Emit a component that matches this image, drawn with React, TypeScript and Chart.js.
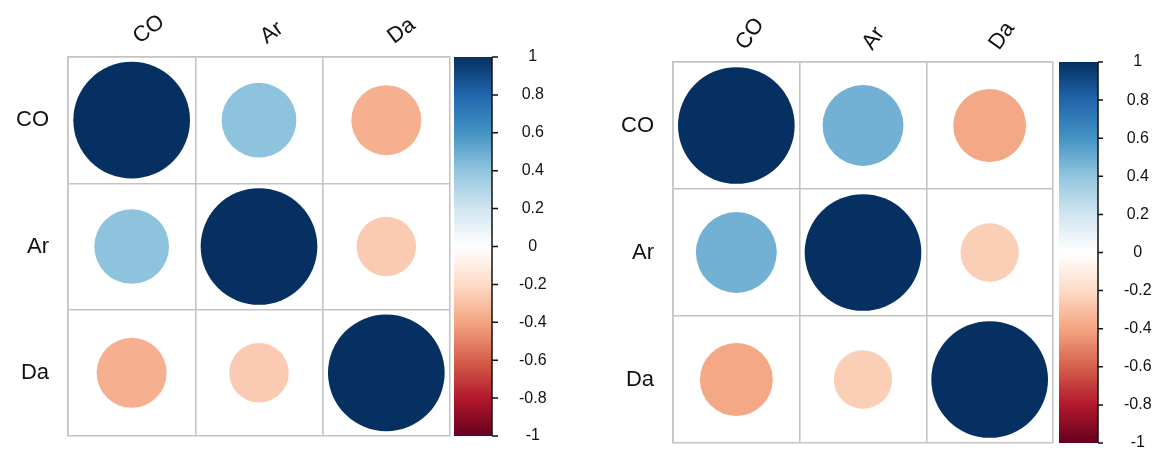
import React, { useEffect, useRef } from 'react';
import { Chart, registerables } from 'chart.js';

Chart.register(...registerables);

// ---- data ----
const variables = ['CO', 'Ar', 'Da'];

const leftCO = [1, 0.41, -0.36];
const leftAr = [0.41, 1, -0.26];
const leftDa = [-0.36, -0.26, 1];

const rightCO = [1, 0.48, -0.39];
const rightAr = [0.48, 1, -0.25];
const rightDa = [-0.39, -0.25, 1];

const colorbarTicks = [-1, -0.8, -0.6, -0.4, -0.2, 0, 0.2, 0.4, 0.6, 0.8, 1];

// RdBu palette, from -1 (bottom) to +1 (top)
const rdBu = ['#67001F', '#B2182B', '#D6604D', '#F4A582', '#FDDBC7', '#FFFFFF', '#D1E5F0', '#92C5DE', '#4393C3', '#2166AC', '#053061'];

const FONT = "'Liberation Sans', Arial, sans-serif";

function hexToRgb(h: string) {
  const n = parseInt(h.slice(1), 16);
  return [(n >> 16) & 255, (n >> 8) & 255, n & 255];
}

function colorFor(v: number) {
  const t = ((v + 1) / 2) * (rdBu.length - 1);
  const i = Math.min(Math.floor(t), rdBu.length - 2);
  const f = t - i;
  const a = hexToRgb(rdBu[i]);
  const b = hexToRgb(rdBu[i + 1]);
  const c = a.map((x, k) => Math.round(x + (b[k] - x) * f));
  return `rgb(${c[0]},${c[1]},${c[2]})`;
}

function radiusFor(ctx: any) {
  const c = ctx.chart;
  const xs = c && c.scales ? c.scales.x : undefined;
  const ys = c && c.scales ? c.scales.y : undefined;
  if (!xs || !ys || !xs.width || !ys.height) return 3;
  const cw = xs.width / variables.length;
  const ch = ys.height / variables.length;
  const v = ctx.raw && typeof ctx.raw.v === 'number' ? ctx.raw.v : 0;
  return 0.46 * ((cw + ch) / 2) * Math.sqrt(Math.abs(v));
}

const colorbarPlugin = {
  id: 'colorbar',
  afterDraw(chart: any, _args: any, opts: any) {
    const s = chart.scales.cb;
    if (!s) return;
    const ctx = chart.ctx;
    const x0 = s.left + opts.gap;
    const x1 = x0 + opts.width;
    const top = s.getPixelForValue(1);
    const bottom = s.getPixelForValue(-1);
    ctx.save();
    const g = ctx.createLinearGradient(0, bottom, 0, top);
    rdBu.forEach((c, i) => g.addColorStop(i / (rdBu.length - 1), c));
    ctx.fillStyle = g;
    ctx.fillRect(x0, top, x1 - x0, bottom - top);
    ctx.strokeStyle = '#111';
    ctx.lineWidth = 1.5;
    ctx.beginPath();
    ctx.moveTo(x1, top);
    ctx.lineTo(x1, bottom);
    colorbarTicks.forEach((v) => {
      const y = s.getPixelForValue(v);
      ctx.moveTo(x1, y);
      ctx.lineTo(x1 + opts.tick, y);
    });
    ctx.stroke();
    ctx.restore();
  },
};

type Panel = {
  rows: number[][];
  yAxisWidth: number;
  xAxisHeight: number;
  cbWidth: number;
  bottomPad: number;
  rotation: number;
  labelShift: number;
  barGap: number;
  barWidth: number;
  tickLen: number;
  labelGap: number;
};

const leftPanel: Panel = {
  rows: [leftCO, leftAr, leftDa],
  yAxisWidth: 68,
  xAxisHeight: 57,
  cbWidth: 130,
  bottomPad: 18,
  rotation: 37,
  labelShift: 20,
  barGap: 4,
  barWidth: 38,
  tickLen: 6,
  labelGap: 21,
};

const rightPanel: Panel = {
  rows: [rightCO, rightAr, rightDa],
  yAxisWidth: 93,
  xAxisHeight: 62,
  cbWidth: 107,
  bottomPad: 11,
  rotation: 55,
  labelShift: 26,
  barGap: 6,
  barWidth: 39,
  tickLen: 5,
  labelGap: 21,
};

function CorrChart({ panel, left }: { panel: Panel; left: number }) {
  const ref = useRef<HTMLCanvasElement>(null);
  useEffect(() => {
    if (!ref.current) return;
    const points: any[] = [];
    panel.rows.forEach((row, i) => {
      row.forEach((v, j) => {
        points.push({ x: variables[j], y: variables[i], v });
      });
    });
    const gridColor = '#c4c4c4';
    const chart = new Chart(ref.current, {
      type: 'scatter',
      data: {
        datasets: [
          {
            data: points,
            pointRadius: radiusFor,
            pointHoverRadius: radiusFor,
            backgroundColor: (ctx: any) => colorFor(ctx.raw && typeof ctx.raw.v === 'number' ? ctx.raw.v : 0),
            borderWidth: 0,
            yAxisID: 'y',
            xAxisID: 'x',
          },
        ],
      },
      options: {
        responsive: false,
        animation: false,
        events: [],
        layout: { padding: { left: 0, right: 0, top: 0, bottom: panel.bottomPad } },
        plugins: {
          legend: { display: false },
          tooltip: { enabled: false },
          colorbar: { gap: panel.barGap, width: panel.barWidth, tick: panel.tickLen },
        } as any,
        scales: {
          x: {
            type: 'category',
            labels: variables,
            position: 'top',
            offset: true,
            grid: { offset: true, color: gridColor, lineWidth: 1.6, drawTicks: false },
            border: { color: gridColor, width: 1.6 },
            ticks: {
              autoSkip: false,
              minRotation: panel.rotation,
              maxRotation: panel.rotation,
              labelOffset: panel.labelShift,
              padding: 7,
              color: '#111',
              font: { family: FONT, size: 22 },
            },
            afterFit: (s: any) => {
              s.height = panel.xAxisHeight;
              s.paddingLeft = 0;
              s.paddingRight = 0;
            },
          },
          y: {
            type: 'category',
            labels: variables,
            position: 'left',
            offset: true,
            grid: { offset: true, color: gridColor, lineWidth: 1.6, drawTicks: false },
            border: { color: gridColor, width: 1.6 },
            ticks: {
              autoSkip: false,
              padding: 19,
              color: '#111',
              font: { family: FONT, size: 22 },
            },
            afterFit: (s: any) => {
              s.width = panel.yAxisWidth;
              s.paddingTop = 0;
              s.paddingBottom = 0;
            },
          },
          cb: {
            type: 'linear',
            position: 'right',
            min: -1,
            max: 1,
            grid: { display: false, drawTicks: false },
            border: { display: false },
            ticks: {
              stepSize: 0.2,
              crossAlign: 'center',
              padding: panel.barGap + panel.barWidth + panel.tickLen + panel.labelGap,
              color: '#111',
              font: { family: FONT, size: 16 },
              callback: (v: any) => String(Math.round(Number(v) * 10) / 10),
            },
            afterFit: (s: any) => {
              s.width = panel.cbWidth;
              s.paddingTop = 0;
              s.paddingBottom = 0;
            },
          },
        },
      } as any,
      plugins: [colorbarPlugin],
    });
    return () => chart.destroy();
  }, [panel]);
  return (
    <canvas
      ref={ref}
      width={580}
      height={454}
      style={{ position: 'absolute', left, top: 0, width: 580, height: 454 }}
    />
  );
}

export default function App() {
  return (
    <div
      style={{
        position: 'fixed',
        left: 0,
        top: 0,
        width: 1160,
        height: 454,
        background: '#fff',
        overflow: 'hidden',
      }}
    >
      <CorrChart panel={leftPanel} left={0} />
      <CorrChart panel={rightPanel} left={580} />
    </div>
  );
}
